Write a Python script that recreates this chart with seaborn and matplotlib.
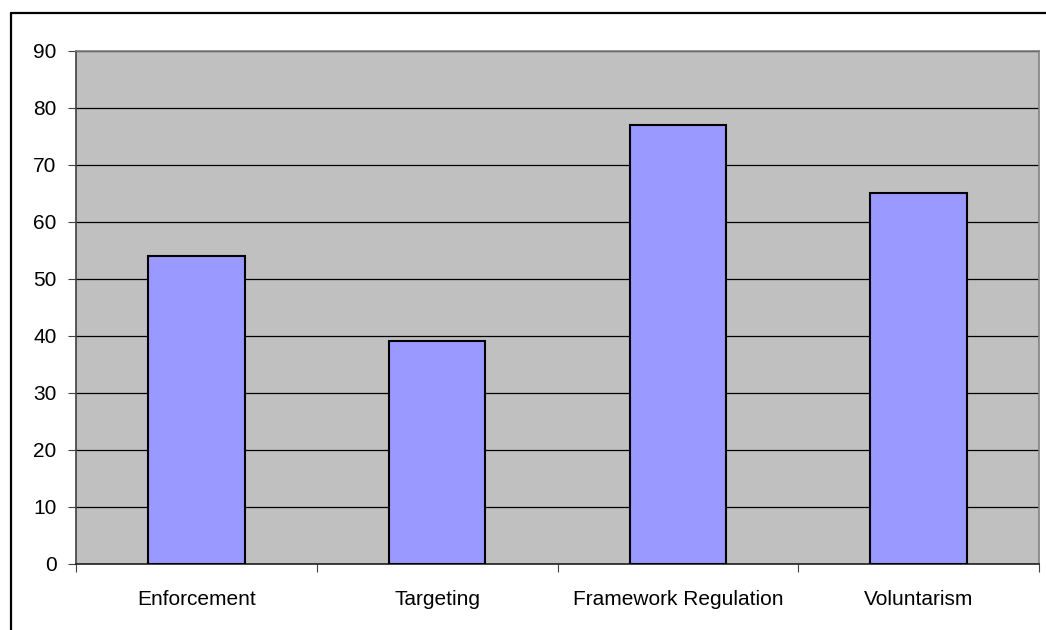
import matplotlib
matplotlib.use("Agg")
import matplotlib.pyplot as plt
import seaborn as sns
import pandas as pd
from matplotlib.lines import Line2D

# --- DATA ---
categories = ['Enforcement', 'Targeting', 'Framework Regulation', 'Voluntarism']
values = [54, 39, 77, 65]
y_ticks = [0, 10, 20, 30, 40, 50, 60, 70, 80, 90]

df = pd.DataFrame({'category': categories, 'value': values})

sns.set_theme(style='white')
plt.rcParams['font.family'] = ['Liberation Sans', 'DejaVu Sans']

fig = plt.figure(figsize=(10.46, 6.30), dpi=100)
ax = fig.add_axes([76 / 1046, 1 - 563.5 / 630, (1039 - 76) / 1046, (563.5 - 51) / 630])
ax.set_facecolor('#C0C0C0')

sns.barplot(data=df, x='category', y='value', color='#9999FF', width=0.4,
            edgecolor='black', linewidth=1.5, saturation=1, ax=ax, zorder=3)

ax.set_xlim(-0.5, len(categories) - 0.5)
ax.set_ylim(0, 90)
ax.set_yticks(y_ticks)
ax.yaxis.grid(True, color='black', linewidth=0.9, zorder=1)
ax.set_axisbelow(True)

# category boundary ticks on the x axis
ax.set_xticks([i - 0.5 for i in range(len(categories) + 1)], minor=True)
ax.tick_params(axis='x', which='minor', direction='out', length=6, width=0.8,
               color='#404040', bottom=True)
ax.tick_params(axis='x', which='major', length=0, pad=19, labelsize=15,
               labelcolor='black')
ax.tick_params(axis='y', direction='out', length=6, width=0.8, color='#404040',
               left=True, pad=8, labelsize=15, labelcolor='black')

ax.set_xlabel('')
ax.set_ylabel('')

for side in ['top', 'right']:
    ax.spines[side].set_color('#808080')
    ax.spines[side].set_linewidth(1.2)
ax.spines['left'].set_color('#404040')
ax.spines['left'].set_linewidth(1.2)
ax.spines['bottom'].set_color('#202020')
ax.spines['bottom'].set_linewidth(1.2)

# chart area border (left and top edges visible in the crop)
fig.add_artist(Line2D([10.5 / 1046, 10.5 / 1046], [0, 1 - 13 / 630],
                      transform=fig.transFigure, color='black', linewidth=1.6))
fig.add_artist(Line2D([10.5 / 1046, 1], [1 - 13 / 630, 1 - 13 / 630],
                      transform=fig.transFigure, color='black', linewidth=1.6))

fig.savefig('out.png', dpi=100)
